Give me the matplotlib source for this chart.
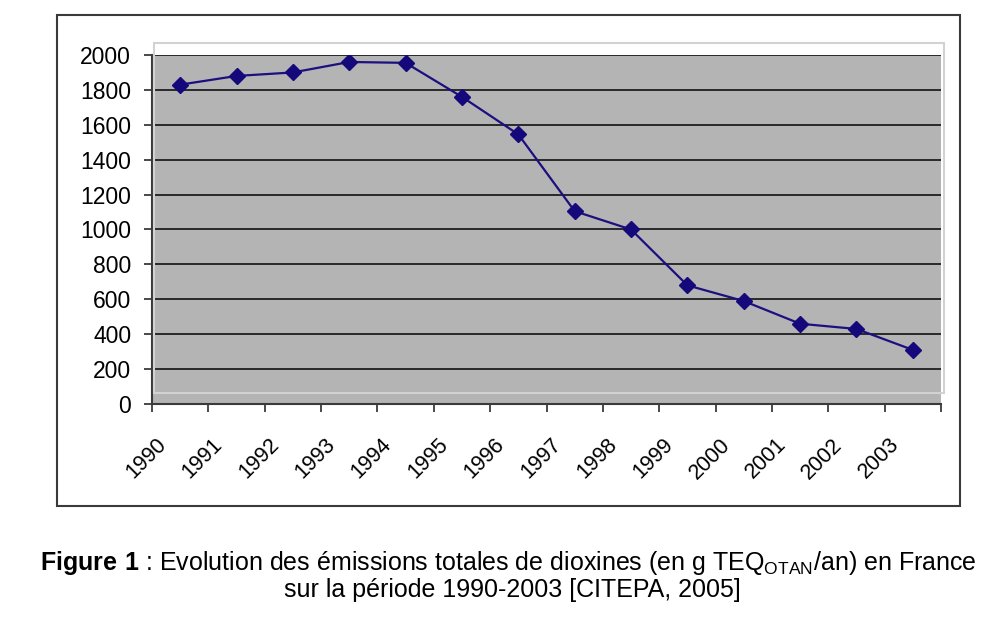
import matplotlib
matplotlib.use("Agg")
import matplotlib.pyplot as plt
from matplotlib.patches import Rectangle
from matplotlib.transforms import ScaledTranslation
import numpy as np

plt.rcParams['font.family'] = ['Liberation Sans', 'DejaVu Sans']
plt.rcParams['mathtext.fontset'] = 'custom'
plt.rcParams['mathtext.rm'] = 'Liberation Sans'
plt.rcParams['mathtext.bf'] = 'Liberation Sans:bold'

# donnees (g TEQ/an)
annees = ['1990', '1991', '1992', '1993', '1994', '1995', '1996',
          '1997', '1998', '1999', '2000', '2001', '2002', '2003']
emissions = [1830, 1880, 1900, 1960, 1955, 1760, 1545,
             1105, 1000, 680, 590, 460, 430, 310]
yticks = list(range(0, 2001, 200))

W, H = 1000, 643
fig = plt.figure(figsize=(W / 100, H / 100), dpi=100)

def px(x0, y0, x1, y1):
    # pixels image -> coordonnees figure
    return [x0 / W, 1 - y1 / H, (x1 - x0) / W, (y1 - y0) / H]

# cadre exterieur
b = px(57, 15, 960, 506)
fig.patches.append(Rectangle((b[0], b[1]), b[2], b[3], transform=fig.transFigure,
                             fill=False, edgecolor='#3a3a3a', lw=1.5, zorder=0))
# cadre clair de la zone de tracé
c = px(154, 43, 944, 393)
fig.patches.append(Rectangle((c[0], c[1]), c[2], c[3], transform=fig.transFigure,
                             fill=False, edgecolor='#d2d2d2', lw=1.5, zorder=0))

ax = fig.add_axes(px(152, 55, 941, 404))
ax.set_facecolor('#b4b4b4')

x = np.arange(len(annees))
ax.plot(x, emissions, color='#1c0f80', lw=1.6, marker='D', markersize=8,
        markerfacecolor='#14087a', markeredgecolor='#14087a', zorder=3)

ax.set_xlim(-0.5, len(annees) - 0.5)
ax.set_ylim(0, 2000)
ax.set_yticks(yticks)
ax.set_yticklabels([str(v) for v in yticks], fontsize=16.5)
ax.yaxis.grid(True, color='#1e1e1e', lw=1.3)
ax.set_axisbelow(True)

ax.set_xticks(x)
ax.set_xticklabels(annees, fontsize=15.5, rotation=45, ha='right', va='center',
                   rotation_mode='anchor')
ax.set_xticks(np.arange(-0.5, len(annees), 1), minor=True)
ax.tick_params(axis='x', which='major', length=0, pad=27)
ax.tick_params(axis='x', which='minor', length=6, width=1.3, color='#3a3a3a', direction='out')
ax.tick_params(axis='y', length=6, width=1.3, color='#3a3a3a', pad=9)
for lab in ax.get_xticklabels():
    lab.set_transform(lab.get_transform() + ScaledTranslation(-17 / 100, 0, fig.dpi_scale_trans))

for s in ['top', 'right']:
    ax.spines[s].set_visible(False)
for s in ['left', 'bottom']:
    ax.spines[s].set_color('#3a3a3a')
    ax.spines[s].set_linewidth(1.5)

fig.text(0.508, 1 - 563 / H,
         r"$\mathbf{Figure\ 1}$ : Evolution des émissions totales de dioxines (en g TEQ$_{\mathrm{OTAN}}$/an) en France",
         ha='center', va='center', fontsize=18)
fig.text(0.512, 1 - 590 / H, "sur la période 1990-2003 [CITEPA, 2005]",
         ha='center', va='center', fontsize=18)

fig.savefig('out.png', dpi=100)
